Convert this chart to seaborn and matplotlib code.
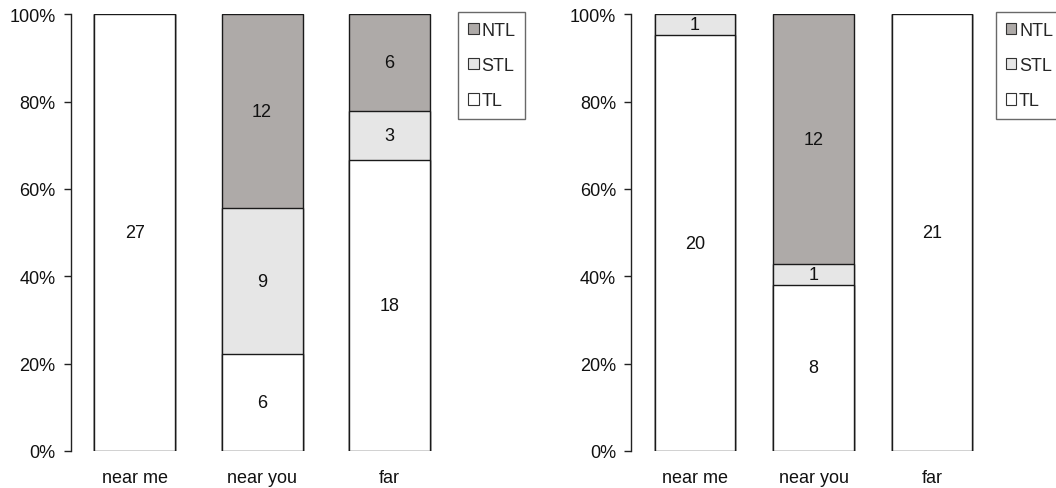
import matplotlib
matplotlib.use("Agg")
import matplotlib.pyplot as plt
from matplotlib.patches import Patch
from matplotlib.ticker import PercentFormatter
import numpy as np
import pandas as pd
import seaborn as sns

sns.set_theme(style="white")
plt.rcParams['font.family'] = ['Liberation Sans', 'DejaVu Sans']

categories = ["near me", "near you", "far"]
series = ["NTL", "STL", "TL"]

left_tl = [27, 6, 18]
left_stl = [0, 9, 3]
left_ntl = [0, 12, 6]

right_tl = [20, 8, 21]
right_stl = [1, 1, 0]
right_ntl = [0, 12, 0]

colors = {"NTL": "#aeaaa8", "STL": "#e6e6e6", "TL": "#ffffff"}
edge = "#1a1a1a"
FS = 13


def draw_panel(ax, tl, stl, ntl, width, xlim):
    df = pd.DataFrame({"cat": categories, "TL": tl, "STL": stl, "NTL": ntl})
    total = df[["TL", "STL", "NTL"]].sum(axis=1)
    df["p_TL"] = df["TL"] / total * 100
    df["p_STL"] = df["STL"] / total * 100
    df["p_NTL"] = df["NTL"] / total * 100
    df["c_TL"] = df["p_TL"]
    df["c_STL"] = df["c_TL"] + df["p_STL"]
    df["c_NTL"] = df["c_STL"] + df["p_NTL"]

    # stacked bars: draw the cumulative layers from the top down
    for s in ["NTL", "STL", "TL"]:
        sns.barplot(data=df, x="cat", y=f"c_{s}", order=categories, ax=ax,
                    color=colors[s], edgecolor=edge, linewidth=1.0,
                    width=width, saturation=1, errorbar=None)

    # segment counts
    for i, row in df.iterrows():
        base = 0.0
        for s in ["TL", "STL", "NTL"]:
            h = row[f"p_{s}"]
            if row[s] > 0:
                ax.text(i, base + h / 2, str(int(row[s])), ha="center",
                        va="center", fontsize=FS, color="#111111")
            base += h

    ax.set_ylim(0, 100)
    ax.set_xlim(*xlim)
    ax.yaxis.set_major_formatter(PercentFormatter(decimals=0))
    ax.set_yticks(np.arange(0, 101, 20))
    ax.set_xlabel("")
    ax.set_ylabel("")
    for side in ["top", "right", "bottom"]:
        ax.spines[side].set_visible(False)
    ax.spines["left"].set_color("#222222")
    ax.spines["left"].set_linewidth(1.0)
    ax.tick_params(axis="y", left=True, length=5, width=1.0, color="#222222",
                   labelsize=FS, labelcolor="#111111", pad=6)
    ax.tick_params(axis="x", bottom=False, labelsize=FS, labelcolor="#111111",
                   pad=7)

    handles = [Patch(facecolor=colors[s], edgecolor="#333333", linewidth=0.8,
                     label=s) for s in series]
    leg = ax.legend(handles=handles, loc="upper left",
                    bbox_to_anchor=(1.012, 1.005), frameon=True, fancybox=False,
                    fontsize=FS, handlelength=0.6, handleheight=0.6,
                    handletextpad=0.15, labelspacing=1.0, borderpad=0.55,
                    borderaxespad=0.0)
    leg.get_frame().set_edgecolor("#444444")
    leg.get_frame().set_linewidth(1.0)


fig = plt.figure(figsize=(10.56, 4.89), dpi=100)
ax1 = fig.add_axes([0.0672, 0.0757, 0.362, 0.893])
ax2 = fig.add_axes([0.598, 0.0757, 0.3407, 0.893])

draw_panel(ax1, left_tl, left_stl, left_ntl, 0.635, (-0.5, 2.5))
draw_panel(ax2, right_tl, right_stl, right_ntl, 0.68, (-0.536, 2.5))

fig.savefig("out.png", dpi=100, facecolor="white")
